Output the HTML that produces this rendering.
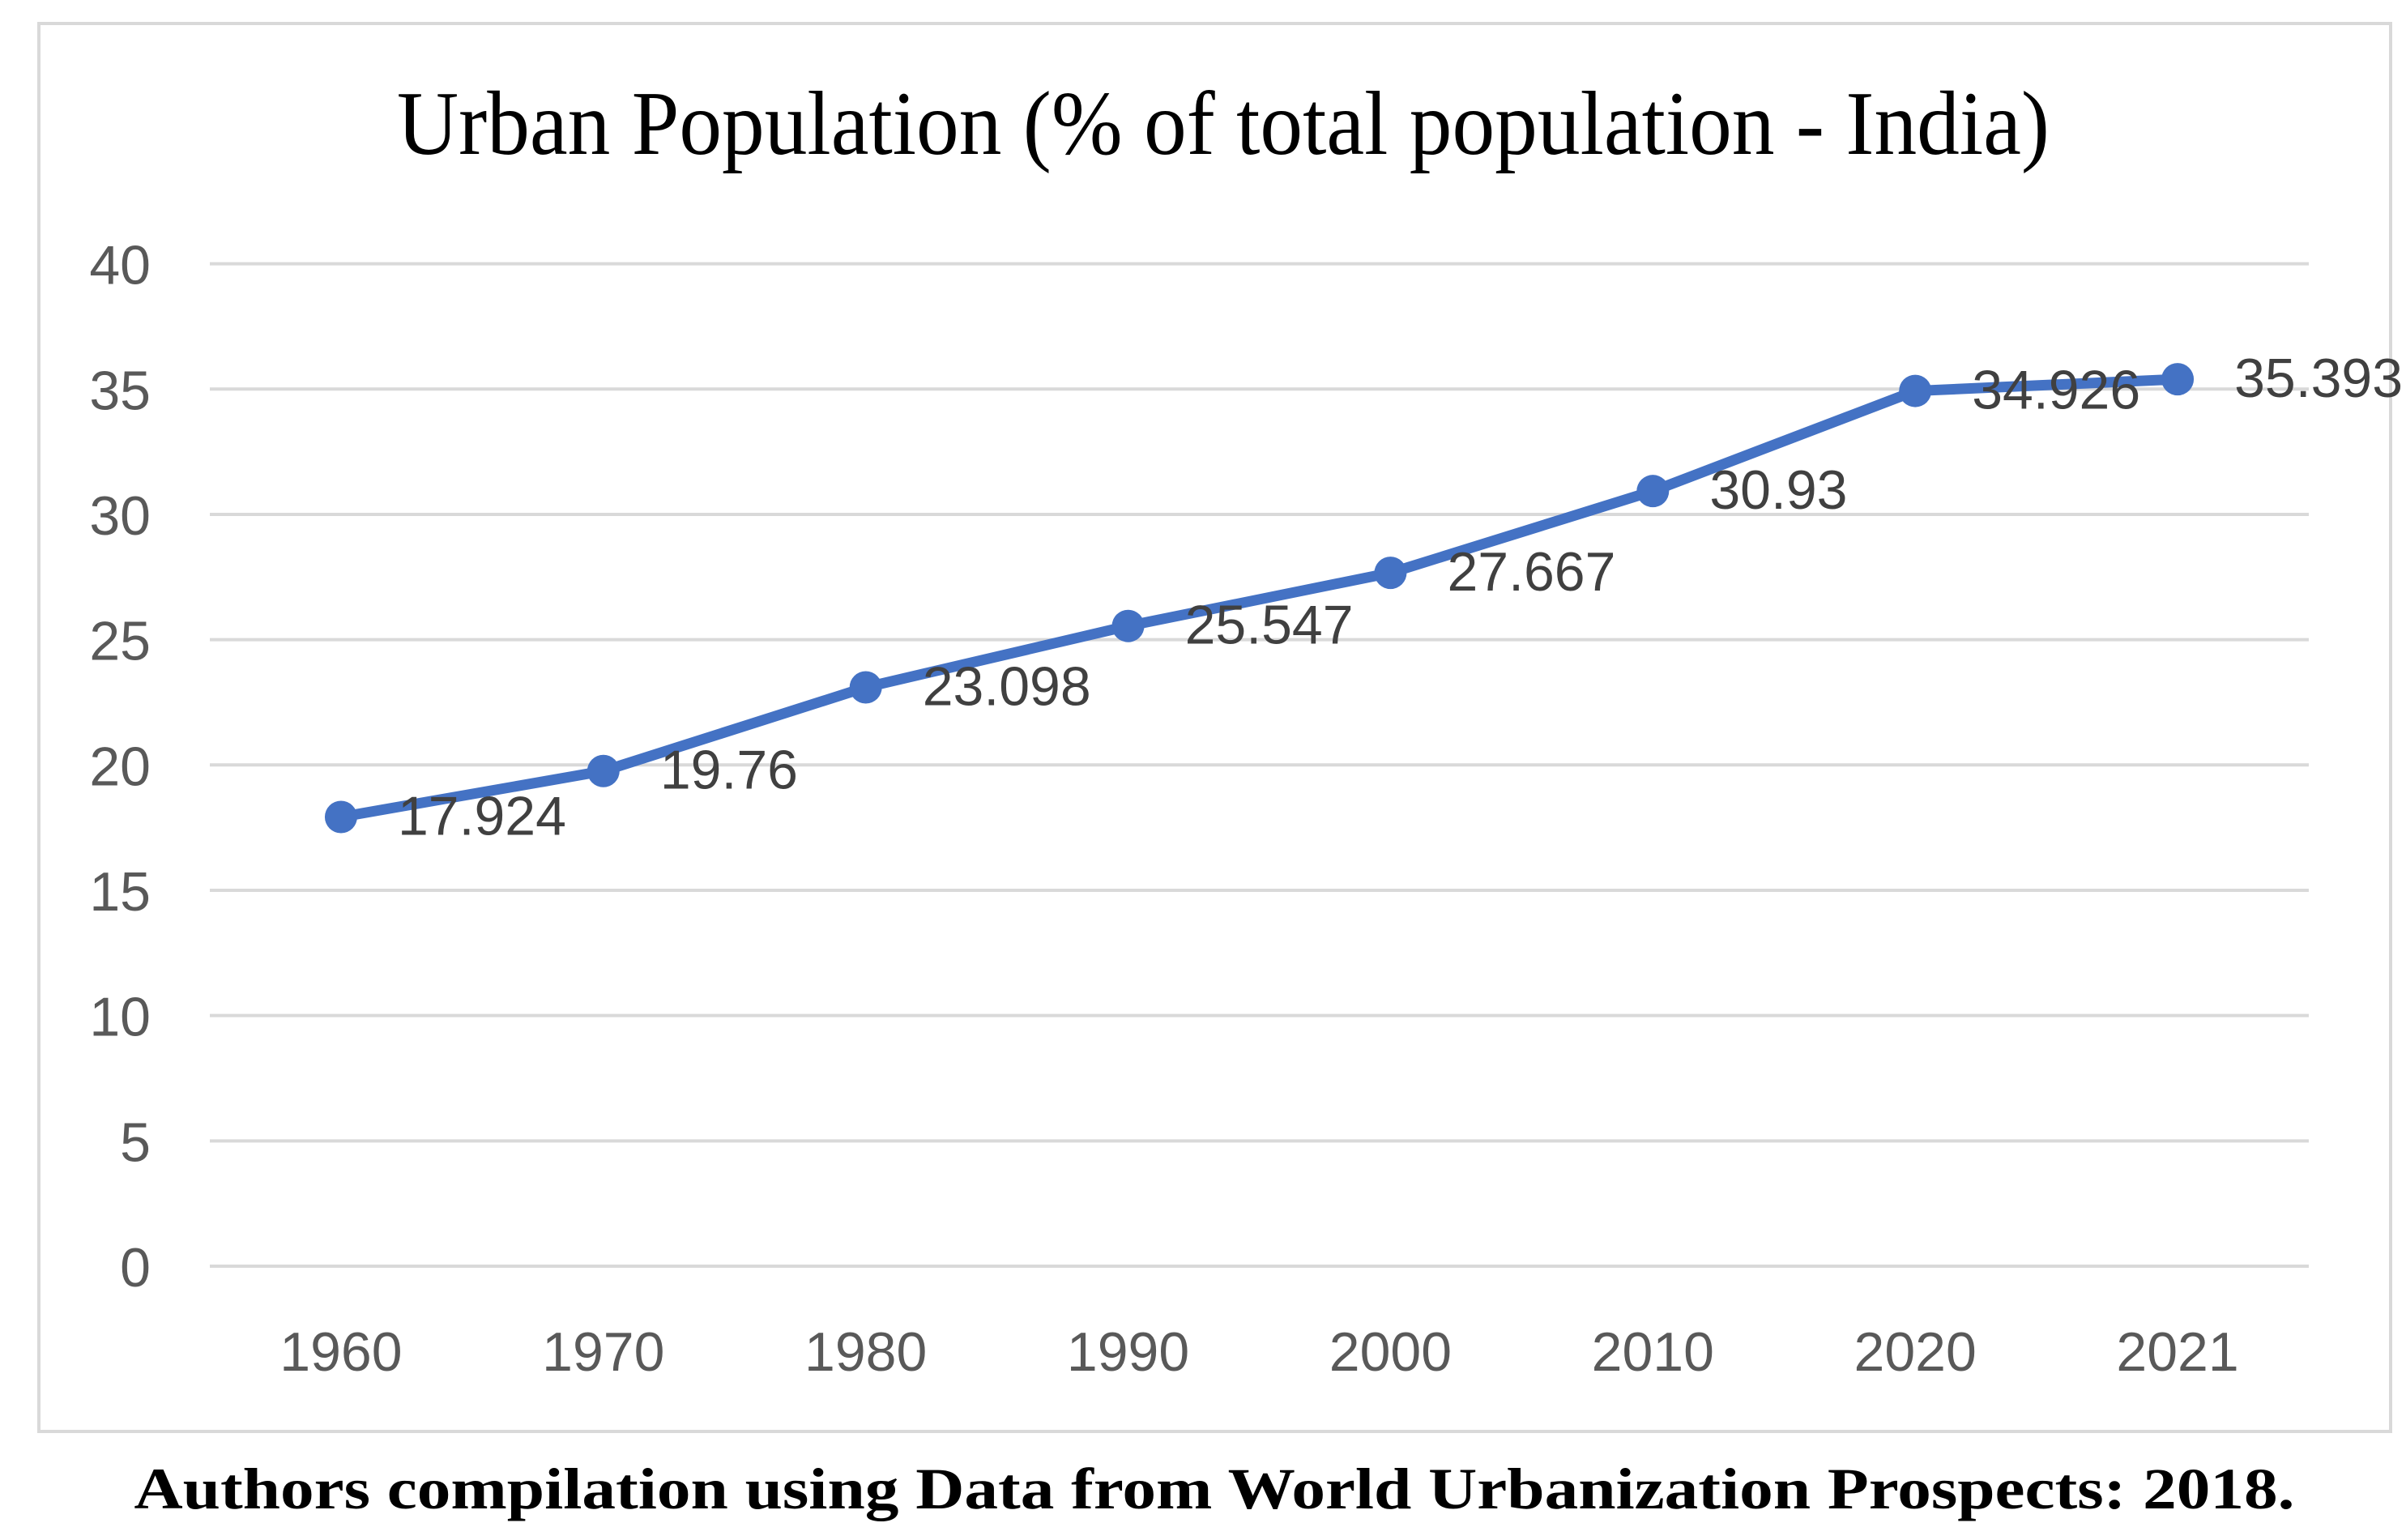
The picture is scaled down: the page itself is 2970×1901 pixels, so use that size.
<!DOCTYPE html>
<html><head><meta charset="utf-8"><style>
html,body{margin:0;padding:0;background:#fff;width:2970px;height:1901px;overflow:hidden}
svg{display:block}
</style></head><body>
<svg id="chart" width="2970" height="1901" viewBox="0 0 2970 1901" xmlns="http://www.w3.org/2000/svg">
<rect x="48" y="29" width="2903" height="1738" fill="#fff" stroke="#d9d9d9" stroke-width="4"/>
<text x="1510" y="190" text-anchor="middle" font-family="Liberation Serif, serif" font-size="112" fill="#000" textLength="2040" lengthAdjust="spacingAndGlyphs">Urban Population (% of total population - India)</text>
<g id="grid"></g><g id="yticks"></g><g id="xticks"></g><g id="series"></g><g id="labels"></g>
<text x="1499" y="1862" text-anchor="middle" font-family="Liberation Serif, serif" font-weight="bold" font-size="72" fill="#000" textLength="2667" lengthAdjust="spacingAndGlyphs">Authors compilation using Data from World Urbanization Prospects: 2018.</text>
</svg>
<script>
const categories = ["1960","1970","1980","1990","2000","2010","2020","2021"];
const values = [17.924, 19.76, 23.098, 25.547, 27.667, 30.93, 34.926, 35.393];
const valueLabels = ["17.924","19.76","23.098","25.547","27.667","30.93","34.926","35.393"];
const yTicks = [0,5,10,15,20,25,30,35,40];

const NS="http://www.w3.org/2000/svg";
const L=259,R=2850,T=325.6,B=1563,YMAX=40;
function x(i){return L+(i+0.5)*(R-L)/categories.length;}
function y(v){return B-(v/YMAX)*(B-T);}
function mk(tag,attrs,parent,text){const e=document.createElementNS(NS,tag);for(const k in attrs)e.setAttribute(k,attrs[k]);if(text!==undefined)e.textContent=text;document.getElementById(parent).appendChild(e);return e;}

yTicks.forEach(t=>{
  const g=mk('line',{x1:L,x2:R,y1:y(t),y2:y(t),stroke:'#d9d9d9','stroke-width':4},'grid');
  
  
  const lb=mk('text',{x:186,y:y(t)+25,'text-anchor':'end','font-family':'Liberation Sans, sans-serif','font-size':68,fill:'#595959'},'yticks',String(t));
  
  
});
categories.forEach((c,i)=>{
  const lb=mk('text',{x:x(i),y:1692,'text-anchor':'middle','font-family':'Liberation Sans, sans-serif','font-size':68,fill:'#595959'},'xticks',c);
  
  
});
const pts=values.map((v,i)=>x(i)+','+y(v)).join(' ');
const line=mk('polyline',{points:pts,fill:'none',stroke:'#4472C4','stroke-width':13,'stroke-linejoin':'round','stroke-linecap':'round'},'series');


values.forEach((v,i)=>{
  const c=mk('circle',{cx:x(i),cy:y(v),r:20,fill:'#4472C4'},'series');
  
  
  const t=mk('text',{x:x(i)+70,y:y(v)+22,'font-family':'Liberation Sans, sans-serif','font-size':68,fill:'#404040'},'labels',valueLabels[i]);
  
  
});
</script>
</body></html>
